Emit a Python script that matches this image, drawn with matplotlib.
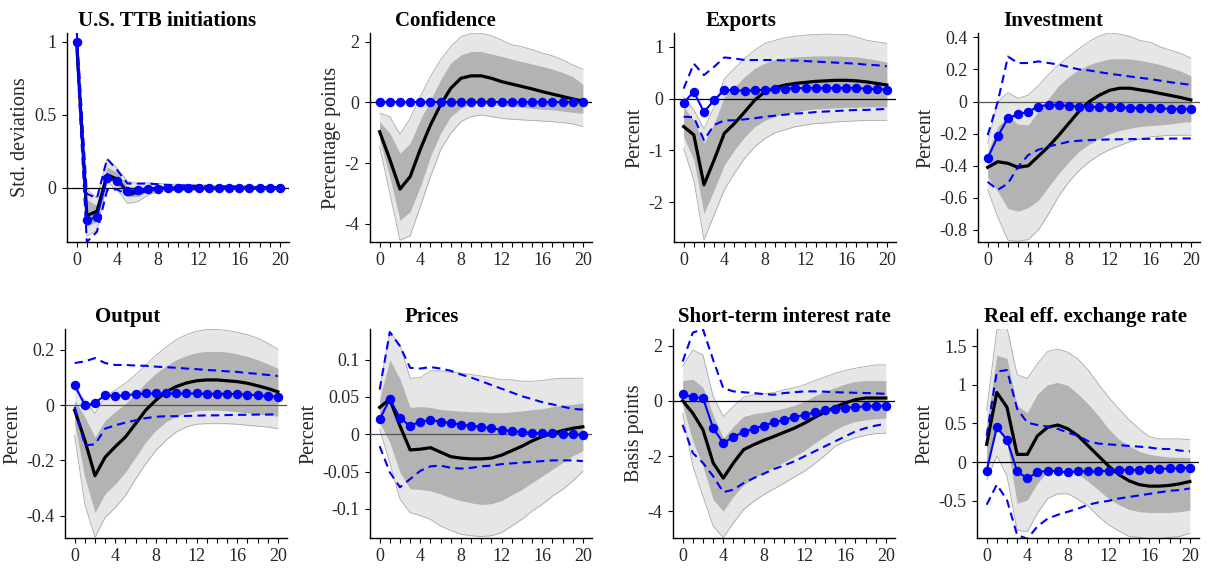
import numpy as np
import matplotlib
matplotlib.use("Agg")
import matplotlib.pyplot as plt
from matplotlib.ticker import FuncFormatter, MultipleLocator

plt.rcParams['font.family'] = ['Liberation Serif', 'DejaVu Serif']
plt.rcParams['axes.unicode_minus'] = False

horizon = np.arange(21)

# ---- U.S. TTB initiations ----
ttb_med = [1.0, -0.19, -0.16, 0.09, 0.06, -0.03, -0.035, -0.01, -0.003, 0.0, 0.0, 0.0, 0.0, 0.0, 0.0, 0.0, 0.0, 0.0, 0.0, 0.0, 0.0]
ttb_hi90 = [1.0, -0.01, -0.07, 0.20, 0.135, 0.045, 0.03, 0.035, 0.03, 0.025, 0.025, 0.022, 0.02, 0.02, 0.018, 0.016, 0.015, 0.013, 0.012, 0.01, 0.01]
ttb_lo90 = [1.0, -0.33, -0.29, 0.04, -0.015, -0.105, -0.095, -0.05, -0.025, -0.02, -0.018, -0.016, -0.015, -0.013, -0.012, -0.011, -0.01, -0.01, -0.009, -0.008, -0.008]
ttb_hi68 = [1.0, -0.08, -0.12, 0.145, 0.105, 0.01, 0.0, 0.01, 0.01, 0.01, 0.008, 0.007, 0.006, 0.005, 0.005, 0.004, 0.004, 0.003, 0.003, 0.003, 0.003]
ttb_lo68 = [1.0, -0.265, -0.23, 0.065, 0.02, -0.06, -0.06, -0.025, -0.012, -0.01, -0.008, -0.007, -0.006, -0.005, -0.005, -0.004, -0.004, -0.003, -0.003, -0.003, -0.003]
ttb_alt = [1.0, -0.22, -0.2, 0.07, 0.045, -0.02, -0.015, -0.006, -0.004, -0.003, -0.003, -0.002, -0.002, -0.002, -0.001, -0.001, -0.001, -0.001, 0.0, 0.0, 0.0]
ttb_alt_hi = [1.08, -0.04, -0.07, 0.2, 0.12, 0.03, 0.03, 0.03, 0.025, 0.02, 0.018, 0.016, 0.014, 0.012, 0.011, 0.01, 0.009, 0.008, 0.007, 0.006, 0.006]
ttb_alt_lo = [0.95, -0.37, -0.3, -0.015, -0.01, -0.05, -0.04, -0.02, -0.012, -0.01, -0.009, -0.008, -0.007, -0.006, -0.005, -0.005, -0.004, -0.004, -0.003, -0.003, -0.003]

# ---- Confidence ----
conf_med = [-0.97, -1.88, -2.86, -2.45, -1.55, -0.75, -0.08, 0.46, 0.79, 0.87, 0.87, 0.79, 0.68, 0.60, 0.52, 0.44, 0.35, 0.27, 0.19, 0.11, 0.04]
conf_hi90 = [-0.36, -0.47, -1.05, -0.53, 0.19, 0.85, 1.4, 1.83, 2.16, 2.27, 2.27, 2.19, 2.05, 1.89, 1.83, 1.73, 1.62, 1.53, 1.4, 1.23, 1.09]
conf_lo90 = [-1.46, -3.0, -4.54, -4.4, -3.44, -2.45, -1.57, -1.02, -0.64, -0.47, -0.42, -0.47, -0.53, -0.56, -0.58, -0.6, -0.62, -0.64, -0.67, -0.71, -0.8]
conf_hi68 = [-0.64, -1.02, -1.68, -1.35, -0.58, 0.08, 0.74, 1.29, 1.56, 1.67, 1.67, 1.59, 1.51, 1.42, 1.34, 1.26, 1.18, 1.09, 0.98, 0.85, 0.59]
conf_lo68 = [-1.24, -2.45, -3.88, -3.6, -2.78, -1.79, -1.02, -0.47, -0.2, -0.05, -0.03, -0.07, -0.12, -0.14, -0.16, -0.2, -0.23, -0.25, -0.29, -0.33, -0.36]
conf_alt = [0.0, 0.0, 0.0, 0.0, 0.0, 0.0, 0.0, 0.0, 0.0, 0.0, 0.0, 0.0, 0.0, 0.0, 0.0, 0.0, 0.0, 0.0, 0.0, 0.0, 0.0]

# ---- Exports ----
exp_med = [-0.54, -0.70, -1.66, -1.18, -0.67, -0.48, -0.26, -0.03, 0.13, 0.21, 0.26, 0.29, 0.31, 0.33, 0.34, 0.35, 0.35, 0.34, 0.32, 0.29, 0.26]
exp_hi90 = [0.03, -0.22, -0.58, -0.16, 0.38, 0.58, 0.77, 0.93, 1.06, 1.12, 1.17, 1.2, 1.22, 1.23, 1.24, 1.23, 1.23, 1.18, 1.12, 1.09, 1.06]
exp_lo90 = [-0.96, -1.57, -2.72, -2.24, -1.76, -1.44, -1.15, -0.93, -0.77, -0.66, -0.6, -0.54, -0.51, -0.48, -0.47, -0.45, -0.44, -0.43, -0.42, -0.42, -0.42]
exp_hi68 = [-0.16, -0.42, -0.86, -0.48, 0.03, 0.22, 0.42, 0.58, 0.68, 0.75, 0.78, 0.8, 0.81, 0.82, 0.82, 0.82, 0.81, 0.8, 0.77, 0.74, 0.7]
exp_lo68 = [-0.74, -1.18, -2.21, -1.76, -1.28, -0.99, -0.74, -0.54, -0.42, -0.34, -0.29, -0.26, -0.22, -0.2, -0.19, -0.18, -0.17, -0.17, -0.16, -0.16, -0.16]
exp_alt = [-0.08, 0.13, -0.26, -0.03, 0.16, 0.16, 0.15, 0.16, 0.17, 0.19, 0.19, 0.2, 0.2, 0.2, 0.2, 0.2, 0.2, 0.2, 0.19, 0.18, 0.17]
exp_alt_hi = [0.19, 0.67, 0.45, 0.61, 0.79, 0.77, 0.74, 0.74, 0.74, 0.74, 0.73, 0.73, 0.72, 0.71, 0.7, 0.69, 0.68, 0.67, 0.65, 0.64, 0.62]
exp_alt_lo = [-0.35, -0.36, -0.8, -0.51, -0.42, -0.42, -0.4, -0.38, -0.35, -0.33, -0.31, -0.29, -0.28, -0.26, -0.25, -0.24, -0.23, -0.22, -0.22, -0.21, -0.2]

# ---- Investment ----
inv_med = [-0.41, -0.375, -0.385, -0.41, -0.40, -0.34, -0.28, -0.21, -0.135, -0.06, 0.0, 0.04, 0.07, 0.083, 0.083, 0.073, 0.063, 0.05, 0.038, 0.025, 0.01]
inv_hi90 = [-0.26, 0.0, 0.056, 0.02, 0.04, 0.10, 0.17, 0.23, 0.28, 0.33, 0.375, 0.41, 0.427, 0.42, 0.406, 0.38, 0.37, 0.34, 0.32, 0.3, 0.27]
inv_lo90 = [-0.55, -0.72, -0.865, -0.87, -0.86, -0.80, -0.70, -0.59, -0.5, -0.43, -0.375, -0.333, -0.30, -0.275, -0.25, -0.235, -0.22, -0.215, -0.21, -0.21, -0.21]
inv_hi68 = [-0.32, -0.156, -0.094, -0.14, -0.146, -0.06, 0.02, 0.1, 0.156, 0.2, 0.23, 0.25, 0.265, 0.267, 0.265, 0.256, 0.244, 0.23, 0.21, 0.19, 0.16]
inv_lo68 = [-0.47, -0.56, -0.667, -0.683, -0.66, -0.615, -0.53, -0.448, -0.375, -0.31, -0.265, -0.23, -0.2, -0.18, -0.167, -0.156, -0.15, -0.146, -0.14, -0.13, -0.125]
inv_alt = [-0.354, -0.215, -0.104, -0.08, -0.063, -0.031, -0.02, -0.023, -0.027, -0.031, -0.033, -0.035, -0.036, -0.037, -0.038, -0.04, -0.041, -0.043, -0.045, -0.046, -0.048]
inv_alt_hi = [-0.21, 0.0, 0.28, 0.24, 0.24, 0.25, 0.24, 0.23, 0.215, 0.2, 0.194, 0.183, 0.173, 0.165, 0.156, 0.148, 0.14, 0.13, 0.12, 0.112, 0.104]
inv_alt_lo = [-0.5, -0.55, -0.51, -0.406, -0.333, -0.30, -0.28, -0.265, -0.25, -0.244, -0.24, -0.238, -0.236, -0.235, -0.234, -0.233, -0.232, -0.232, -0.231, -0.23, -0.23]

# ---- Output ----
out_med = [-0.018, -0.127, -0.255, -0.188, -0.15, -0.115, -0.067, -0.018, 0.018, 0.048, 0.067, 0.08, 0.088, 0.091, 0.091, 0.088, 0.085, 0.079, 0.07, 0.06, 0.048]
out_hi90 = [0.055, 0.018, -0.03, 0.03, 0.055, 0.079, 0.11, 0.145, 0.18, 0.21, 0.236, 0.255, 0.267, 0.273, 0.273, 0.27, 0.263, 0.255, 0.242, 0.224, 0.202]
out_lo90 = [-0.11, -0.358, -0.478, -0.406, -0.37, -0.327, -0.267, -0.212, -0.164, -0.127, -0.097, -0.079, -0.069, -0.067, -0.067, -0.067, -0.069, -0.073, -0.076, -0.079, -0.085]
out_hi68 = [0.018, -0.042, -0.115, -0.055, -0.024, 0.006, 0.042, 0.081, 0.115, 0.142, 0.164, 0.179, 0.19, 0.194, 0.194, 0.192, 0.185, 0.176, 0.164, 0.149, 0.133]
out_lo68 = [-0.067, -0.26, -0.388, -0.32, -0.285, -0.242, -0.188, -0.133, -0.091, -0.06, -0.04, -0.028, -0.02, -0.018, -0.018, -0.02, -0.024, -0.028, -0.033, -0.036, -0.04]
out_alt = [0.073, 0.0, 0.008, 0.036, 0.033, 0.035, 0.04, 0.042, 0.042, 0.042, 0.042, 0.042, 0.042, 0.041, 0.041, 0.04, 0.04, 0.038, 0.036, 0.033, 0.03]
out_alt_hi = [0.152, 0.158, 0.17, 0.152, 0.145, 0.145, 0.143, 0.142, 0.139, 0.137, 0.135, 0.132, 0.13, 0.127, 0.125, 0.122, 0.12, 0.116, 0.113, 0.109, 0.105]
out_alt_lo = [-0.006, -0.145, -0.142, -0.085, -0.073, -0.063, -0.055, -0.047, -0.042, -0.04, -0.04, -0.039, -0.038, -0.037, -0.037, -0.036, -0.035, -0.035, -0.034, -0.034, -0.033]

# ---- Prices ----
prc_med = [0.036, 0.047, 0.011, -0.021, -0.020, -0.018, -0.024, -0.03, -0.032, -0.033, -0.033, -0.032, -0.028, -0.022, -0.016, -0.009, -0.003, 0.001, 0.005, 0.008, 0.01]
prc_hi90 = [0.06, 0.137, 0.12, 0.075, 0.076, 0.085, 0.085, 0.083, 0.082, 0.08, 0.078, 0.076, 0.073, 0.073, 0.071, 0.071, 0.072, 0.074, 0.075, 0.075, 0.075]
prc_lo90 = [0.007, -0.038, -0.087, -0.105, -0.109, -0.114, -0.123, -0.129, -0.134, -0.136, -0.137, -0.136, -0.132, -0.123, -0.114, -0.103, -0.094, -0.083, -0.074, -0.063, -0.05]
prc_hi68 = [0.047, 0.1, 0.074, 0.036, 0.037, 0.036, 0.033, 0.032, 0.031, 0.03, 0.03, 0.029, 0.029, 0.03, 0.031, 0.033, 0.034, 0.037, 0.039, 0.04, 0.042]
prc_lo68 = [0.016, -0.011, -0.051, -0.073, -0.074, -0.076, -0.08, -0.085, -0.089, -0.092, -0.094, -0.093, -0.089, -0.081, -0.074, -0.065, -0.056, -0.047, -0.038, -0.029, -0.022]
prc_alt = [0.02, 0.047, 0.022, 0.011, 0.017, 0.019, 0.017, 0.015, 0.013, 0.011, 0.01, 0.008, 0.006, 0.004, 0.003, 0.002, 0.001, 0.001, 0.0, 0.0, -0.001]
prc_alt_hi = [0.06, 0.137, 0.118, 0.089, 0.088, 0.09, 0.088, 0.085, 0.08, 0.076, 0.071, 0.066, 0.061, 0.056, 0.051, 0.047, 0.043, 0.04, 0.037, 0.034, 0.033]
prc_alt_lo = [-0.016, -0.051, -0.071, -0.06, -0.049, -0.043, -0.042, -0.045, -0.046, -0.045, -0.043, -0.042, -0.04, -0.039, -0.038, -0.037, -0.036, -0.035, -0.035, -0.035, -0.036]

# ---- Short-term interest rate ----
rate_med = [0.0, -0.45, -1.05, -2.25, -2.8, -2.25, -1.77, -1.59, -1.43, -1.29, -1.14, -0.99, -0.81, -0.6, -0.41, -0.23, -0.08, 0.04, 0.1, 0.1, 0.1]
rate_hi90 = [1.24, 1.84, 1.66, 0.16, -0.57, -0.2, 0.13, 0.22, 0.25, 0.3, 0.4, 0.48, 0.58, 0.73, 0.86, 1.0, 1.1, 1.18, 1.24, 1.3, 1.3]
rate_lo90 = [-0.45, -2.37, -3.46, -4.54, -4.96, -4.42, -3.94, -3.64, -3.4, -3.19, -2.98, -2.76, -2.55, -2.28, -1.98, -1.65, -1.47, -1.35, -1.25, -1.19, -1.17]
rate_hi68 = [0.73, 0.78, 0.49, -0.51, -1.35, -0.93, -0.57, -0.47, -0.42, -0.35, -0.27, -0.17, -0.02, 0.18, 0.34, 0.48, 0.61, 0.7, 0.73, 0.73, 0.73]
rate_lo68 = [-0.14, -1.47, -2.37, -3.58, -4.0, -3.46, -3.04, -2.8, -2.59, -2.4, -2.22, -2.01, -1.8, -1.53, -1.29, -1.05, -0.87, -0.75, -0.69, -0.65, -0.63]
rate_alt = [0.24, 0.13, 0.1, -0.99, -1.53, -1.31, -1.13, -1.01, -0.9, -0.78, -0.69, -0.59, -0.51, -0.42, -0.35, -0.29, -0.25, -0.23, -0.2, -0.19, -0.18]
rate_alt_hi = [1.42, 2.47, 2.59, 1.48, 0.46, 0.34, 0.31, 0.28, 0.24, 0.22, 0.28, 0.31, 0.34, 0.34, 0.33, 0.31, 0.3, 0.29, 0.28, 0.27, 0.25]
rate_alt_lo = [-0.87, -1.89, -2.25, -2.73, -3.31, -3.22, -2.98, -2.8, -2.64, -2.47, -2.34, -2.19, -2.01, -1.83, -1.65, -1.47, -1.29, -1.11, -0.99, -0.9, -0.83]

# ---- Real effective exchange rate ----
reer_med = [0.23, 0.9, 0.71, 0.1, 0.1, 0.34, 0.45, 0.48, 0.43, 0.34, 0.21, 0.08, -0.05, -0.16, -0.24, -0.29, -0.31, -0.31, -0.3, -0.28, -0.25]
reer_hi90 = [0.67, 1.71, 1.74, 1.13, 1.08, 1.27, 1.43, 1.46, 1.42, 1.33, 1.19, 1.01, 0.84, 0.69, 0.55, 0.43, 0.33, 0.3, 0.3, 0.3, 0.29]
reer_lo90 = [-0.23, 0.08, -0.18, -0.88, -0.9, -0.66, -0.47, -0.41, -0.41, -0.48, -0.57, -0.7, -0.81, -0.89, -0.96, -0.97, -0.99, -0.99, -0.97, -0.96, -0.92]
reer_hi68 = [0.47, 1.38, 1.34, 0.73, 0.64, 0.88, 1.0, 1.03, 0.99, 0.88, 0.75, 0.6, 0.43, 0.3, 0.21, 0.14, 0.1, 0.08, 0.065, 0.06, 0.06]
reer_lo68 = [-0.05, 0.43, 0.25, -0.53, -0.49, -0.27, -0.12, -0.07, -0.1, -0.16, -0.25, -0.36, -0.47, -0.55, -0.61, -0.64, -0.65, -0.65, -0.65, -0.64, -0.62]
reer_alt = [-0.11, 0.45, 0.29, -0.12, -0.21, -0.13, -0.11, -0.12, -0.13, -0.12, -0.12, -0.12, -0.11, -0.1, -0.1, -0.1, -0.09, -0.09, -0.08, -0.08, -0.07]
reer_alt_hi = [0.34, 1.17, 1.19, 0.69, 0.51, 0.48, 0.46, 0.43, 0.38, 0.34, 0.27, 0.24, 0.23, 0.22, 0.21, 0.2, 0.19, 0.17, 0.17, 0.15, 0.14]
reer_alt_lo = [-0.55, -0.29, -0.49, -0.94, -0.99, -0.83, -0.73, -0.68, -0.64, -0.6, -0.55, -0.52, -0.5, -0.47, -0.45, -0.43, -0.41, -0.39, -0.37, -0.36, -0.34]

titles = ["U.S. TTB initiations", "Confidence", "Exports", "Investment",
          "Output", "Prices", "Short-term interest rate", "Real eff. exchange rate"]
ylabels = ["Std. deviations", "Percentage points", "Percent", "Percent",
           "Percent", "Percent", "Basis points", "Percent"]

series = [
    (ttb_med, ttb_lo90, ttb_hi90, ttb_lo68, ttb_hi68, ttb_alt, ttb_alt_lo, ttb_alt_hi),
    (conf_med, conf_lo90, conf_hi90, conf_lo68, conf_hi68, conf_alt, None, None),
    (exp_med, exp_lo90, exp_hi90, exp_lo68, exp_hi68, exp_alt, exp_alt_lo, exp_alt_hi),
    (inv_med, inv_lo90, inv_hi90, inv_lo68, inv_hi68, inv_alt, inv_alt_lo, inv_alt_hi),
    (out_med, out_lo90, out_hi90, out_lo68, out_hi68, out_alt, out_alt_lo, out_alt_hi),
    (prc_med, prc_lo90, prc_hi90, prc_lo68, prc_hi68, prc_alt, prc_alt_lo, prc_alt_hi),
    (rate_med, rate_lo90, rate_hi90, rate_lo68, rate_hi68, rate_alt, rate_alt_lo, rate_alt_hi),
    (reer_med, reer_lo90, reer_hi90, reer_lo68, reer_hi68, reer_alt, reer_alt_lo, reer_alt_hi),
]

ylims = [(-0.37, 1.06), (-4.6, 2.28), (-2.76, 1.26), (-0.875, 0.427),
         (-0.48, 0.275), (-0.139, 0.141), (-4.97, 2.6), (-0.98, 1.72)]
yticks = [[0, 0.5, 1], [-4, -2, 0, 2], [-2, -1, 0, 1], [-0.8, -0.6, -0.4, -0.2, 0, 0.2, 0.4],
          [-0.4, -0.2, 0, 0.2], [-0.1, -0.05, 0, 0.05, 0.1], [-4, -2, 0, 2], [-0.5, 0, 0.5, 1, 1.5]]

# layout (pixels on a 1210 x 574 canvas)
W, H = 1210.0, 574.0
lefts = [67, 370, 674, 978, 65, 370, 673, 977]
tops = [33, 33, 33, 33, 329, 329, 329, 329]
bottoms = [242, 242, 242, 242, 538, 538, 538, 538]
width_px = 222
title_x = [0.45, 0.34, 0.30, 0.34, 0.28, 0.28, 0.50, 0.49]
zero_colors = ["k", "k", "k", "#555555", "#555555", "#555555", "k", "k"]

OUTER = "#e6e6e6"
OUTER_EDGE = "#a9a9a9"
INNER = "#b3b3b3"
BLUE = "#0000ff"
TXT = "#262626"

fig = plt.figure(figsize=(W / 100, H / 100), dpi=100)
fmt = FuncFormatter(lambda v, _: f"{v:g}")

for i in range(8):
    med, lo90, hi90, lo68, hi68, alt, alt_lo, alt_hi = series[i]
    ax = fig.add_axes([lefts[i] / W, 1 - bottoms[i] / H, width_px / W, (bottoms[i] - tops[i]) / H])

    ax.fill_between(horizon, lo90, hi90, color=OUTER, lw=0, zorder=1)
    ax.plot(horizon, lo90, color=OUTER_EDGE, lw=0.6, zorder=1.5)
    ax.plot(horizon, hi90, color=OUTER_EDGE, lw=0.6, zorder=1.5)
    ax.fill_between(horizon, lo68, hi68, color=INNER, lw=0, zorder=2)
    ax.axhline(0, color=zero_colors[i], lw=0.9, zorder=3)
    ax.plot(horizon, med, color="k", lw=2.3, zorder=4)
    if alt_lo is not None:
        ax.plot(horizon, alt_lo, color=BLUE, lw=1.5, ls=(0, (4, 2.5)), zorder=5)
        ax.plot(horizon, alt_hi, color=BLUE, lw=1.5, ls=(0, (4, 2.5)), zorder=5)
    ax.plot(horizon, alt, color=BLUE, lw=1.5, marker="o", ms=5.8, zorder=6)

    ax.set_xlim(-0.95, 20.9)
    ax.set_ylim(*ylims[i])
    ax.set_yticks(yticks[i])
    ax.yaxis.set_major_formatter(fmt)
    ax.xaxis.set_major_locator(MultipleLocator(4))
    ax.xaxis.set_minor_locator(MultipleLocator(1))
    ax.xaxis.set_major_formatter(fmt)

    for s in ("top", "right"):
        ax.spines[s].set_visible(False)
    for s in ("left", "bottom"):
        ax.spines[s].set_linewidth(1.0)
        ax.spines[s].set_color("k")
    ax.tick_params(axis="both", which="both", direction="out", length=3.5, width=0.8,
                   labelsize=13, labelcolor=TXT, pad=4)

    ax.set_ylabel(ylabels[i], fontsize=14.5, color=TXT, labelpad=3)
    ax.set_title(titles[i], fontsize=15, fontweight="bold", x=title_x[i], pad=5)

fig.savefig("out.png", dpi=100)
